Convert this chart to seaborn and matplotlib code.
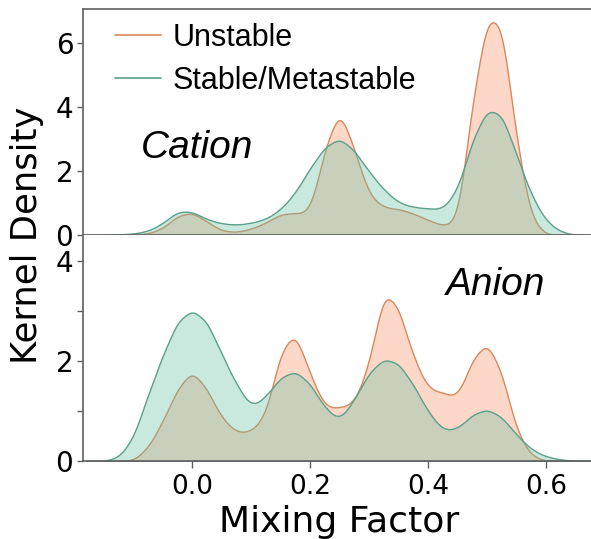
import numpy as np
import matplotlib
matplotlib.use("Agg")
import matplotlib.pyplot as plt
from matplotlib.lines import Line2D
import seaborn as sns

# ---- data: binned mixing-factor values and their (relative) counts ----
mixing_factor = [-0.125, -0.1, -0.075, -0.05, -0.025, 0.0, 0.025, 0.05, 0.075, 0.1,
                 0.125, 0.15, 0.175, 0.2, 0.225, 0.25, 0.275, 0.3, 0.325, 0.35,
                 0.375, 0.4, 0.425, 0.45, 0.475, 0.5, 0.525, 0.55, 0.575, 0.6,
                 0.625, 0.65]

cation_unstable = [0, 0, 0.04, 0.21, 0.64, 0.76, 0.44, 0.13, 0.09, 0.20,
                   0.40, 0.70, 0.72, 0.69, 2.85, 4.25, 2.80, 1.26, 0.89, 0.86,
                   0.71, 0.49, 0.30, 0.34, 4.40, 7.25, 7.10, 3.02, 0.45, 0,
                   0, 0]
cation_stable = [0.02, 0.04, 0.12, 0.36, 0.76, 0.75, 0.49, 0.36, 0.32, 0.38,
                 0.50, 0.80, 1.33, 2.12, 2.80, 3.09, 2.68, 1.99, 1.42, 1.01,
                 0.88, 0.84, 0.80, 1.40, 3.02, 4.02, 3.86, 2.52, 1.23, 0.42,
                 0.09, 0]
anion_unstable = [0, 0, 0.26, 0.81, 1.50, 1.90, 1.50, 0.88, 0.58, 0.60,
                  0.92, 2.30, 2.72, 1.78, 1.09, 1.10, 1.18, 1.97, 3.60, 3.20,
                  2.13, 1.47, 1.42, 1.28, 2.12, 2.50, 1.85, 0.59, 0.09, 0,
                  0, 0]
anion_stable = [0.06, 0.46, 1.41, 2.25, 3.00, 3.25, 3.00, 2.28, 1.63, 1.12,
                1.37, 1.80, 1.94, 1.66, 1.12, 0.84, 1.31, 1.90, 2.20, 2.10,
                1.63, 1.04, 0.64, 0.68, 1.00, 1.12, 0.95, 0.55, 0.24, 0.09,
                0.03, 0]

series_labels = ["Unstable", "Stable/Metastable"]
panel_labels = ["Cation", "Anion"]
x_ticks = [0.0, 0.2, 0.4, 0.6]
x_tick_labels = ["0.0", "0.2", "0.4", "0.6"]
cation_y_ticks = [0, 2, 4, 6]
cation_y_tick_labels = ["0", "2", "4", "6"]
anion_y_ticks = [0, 1, 2, 3, 4]
anion_y_tick_labels = ["0", "", "2", "", "4"]

# ---- style ----
sns.set_theme(style="ticks")
plt.rcParams["font.family"] = ["DejaVu Sans"]
plt.rcParams["text.color"] = "black"
plt.rcParams["axes.labelcolor"] = "black"
plt.rcParams["xtick.color"] = "black"
plt.rcParams["ytick.color"] = "black"

FILL = {"Unstable": "#fc8d62", "Stable/Metastable": "#66c2a5"}
EDGE = {"Unstable": "#d7885c", "Stable/Metastable": "#5c9f8b"}
SPINE = "#606060"
KERNEL_SD = 0.015

W, H = 591, 539
fig = plt.figure(figsize=(W / 100, H / 100), dpi=100)
left = 83 / W
ax_top = fig.add_axes([left, 1 - 235 / H, 1 - left, 226 / H])
ax_bot = fig.add_axes([left, 1 - 461 / H, 1 - left, 226 / H], sharex=ax_top)


def draw(ax, weights, name):
    x = np.asarray(mixing_factor, float)
    w = np.asarray(weights, float)
    keep = w > 0
    x, w = x[keep], w[keep]
    wn = w / w.sum()
    m = (wn * x).sum()
    sd = np.sqrt((wn * (x - m) ** 2).sum() / (1 - (wn ** 2).sum()))
    sns.kdeplot(x=x, weights=w, bw_method=KERNEL_SD / sd, fill=True,
                alpha=0.35, color=FILL[name], edgecolor=EDGE[name],
                linewidth=1.0, gridsize=600, ax=ax)


draw(ax_top, cation_unstable, "Unstable")
draw(ax_top, cation_stable, "Stable/Metastable")
draw(ax_bot, anion_unstable, "Unstable")
draw(ax_bot, anion_stable, "Stable/Metastable")

ax_top.set_xlim(-0.185, 0.676)
ax_top.set_ylim(0, 7.06)
ax_bot.set_ylim(0, 4.52)

for ax in (ax_top, ax_bot):
    ax.set_xlabel("")
    ax.set_ylabel("")
    ax.spines["right"].set_visible(False)
    for s in ax.spines.values():
        s.set_color(SPINE)
        s.set_linewidth(1.2)
    ax.tick_params(axis="y", length=4, width=1, color=SPINE, pad=3,
                   labelsize=20, labelcolor="black")

ax_bot.spines["top"].set_visible(False)
ax_top.tick_params(axis="x", bottom=False, labelbottom=False)
ax_top.set_yticks(cation_y_ticks)
ax_top.set_yticklabels(cation_y_tick_labels)
ax_bot.set_yticks(anion_y_ticks)
ax_bot.set_yticklabels(anion_y_tick_labels)
ax_bot.set_xticks(x_ticks)
ax_bot.set_xticklabels(x_tick_labels)
ax_bot.tick_params(axis="x", length=5, width=1, color=SPINE, pad=4,
                   labelsize=19, labelcolor="black")

# axis titles
fig.text(0.0465, 1 - 235 / H, "Kernel Density", rotation=90, ha="center",
         va="center", fontsize=25.5, color="black")
fig.text(339 / W, 1 - 532 / H, "Mixing Factor", ha="center", va="baseline",
         fontsize=26, color="black")

# panel names
fig.text(141 / W, 1 - 158 / H, panel_labels[0], ha="left", va="baseline",
         fontsize=28, style="italic", family="Liberation Sans", color="black")
fig.text(446 / W, 1 - 295 / H, panel_labels[1], ha="left", va="baseline",
         fontsize=28, style="italic", family="Liberation Sans", color="black")

# legend
handles = [Line2D([], [], color=EDGE[n], lw=1.2) for n in series_labels]
ax_top.legend(handles, series_labels, loc="upper left",
              bbox_to_anchor=(115 / W, 1 - 23 / H), bbox_transform=fig.transFigure,
              frameon=False, borderpad=0, borderaxespad=0, handlelength=1.5,
              handletextpad=0.4, labelspacing=0.42,
              prop={"family": "Liberation Sans", "size": 22})

fig.savefig("out.png", dpi=100)
